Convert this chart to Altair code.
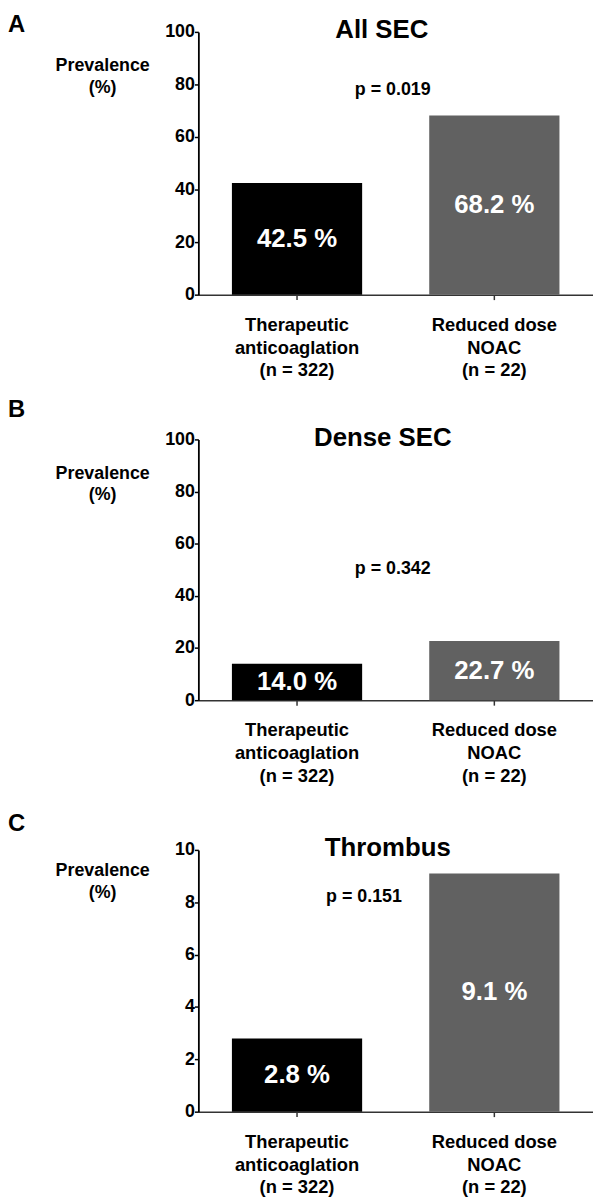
import altair as alt
import pandas as pd

# ---- data ----
groups = ["Therapeutic|anticoaglation|(n = 322)", "Reduced dose|NOAC|(n = 22)"]
colors = ["#000000", "#616161"]

titles = ["All SEC", "Dense SEC", "Thrombus"]
letters = ["A", "B", "C"]

all_sec = [42.5, 68.2]
dense_sec = [14.0, 22.7]
thrombus = [2.8, 9.1]
all_sec_labels = ["42.5 %", "68.2 %"]
dense_sec_labels = ["14.0 %", "22.7 %"]
thrombus_labels = ["2.8 %", "9.1 %"]

p_texts = ["p = 0.019", "p = 0.342", "p = 0.151"]
p_levels = [77.7, 50.2, 8.2]          # height of the p-value note, in axis units
y_max = [100, 100, 10]
y_ticks = [[0, 20, 40, 60, 80, 100], [0, 20, 40, 60, 80, 100], [0, 2, 4, 6, 8, 10]]

FONT = "Liberation Sans"


def panel(values, labels, title, letter, ptext, plevel, ymax, ticks,
          h, ytitle_y, letter_y, title_x, p_x):
    df = pd.DataFrame({"group": groups, "value": values, "label": labels})
    xenc = alt.X(
        "group:N", sort=groups,
        scale=alt.Scale(paddingInner=0.34, paddingOuter=0.17),
        axis=alt.Axis(
            title=None, labelAngle=0, labelExpr="split(datum.label, '|')",
            labelFont=FONT, labelFontSize=18.5, labelFontWeight="bold",
            labelColor="#000", labelLineHeight=23, labelPadding=16,
            tickSize=5, tickColor="#333", tickWidth=1.5,
            domainColor="#333", domainWidth=1.5, grid=False,
        ),
    )
    yaxis = alt.Axis(
        values=ticks, grid=False, title=["Prevalence", "(%)"],
        titleAngle=0, titleAlign="center", titleBaseline="alphabetic",
        titleX=-97, titleY=ytitle_y, titleFont=FONT, titleFontSize=18,
        titleFontWeight="bold", titleColor="#000", titleLineHeight=22,
        labelFont=FONT, labelFontSize=18, labelFontWeight="bold",
        labelColor="#000", labelPadding=0, tickSize=4, tickColor="#000",
        tickWidth=1.5, domainColor="#000", domainWidth=1.8,
    )
    yscale = alt.Scale(domain=[0, ymax], nice=False)

    bars = alt.Chart(df).mark_bar().encode(
        x=xenc,
        y=alt.Y("value:Q", scale=yscale, axis=yaxis),
        color=alt.Color("group:N", sort=groups,
                        scale=alt.Scale(domain=groups, range=colors), legend=None),
    )
    vals = alt.Chart(df).transform_calculate(mid="datum.value / 2").mark_text(
        font=FONT, fontSize=26, fontWeight="bold", color="white", baseline="middle"
    ).encode(
        x=alt.X("group:N", sort=groups),
        y=alt.Y("mid:Q", scale=yscale, axis=yaxis),
        text="label:N",
    )
    pdf = pd.DataFrame({"p": [ptext], "lvl": [plevel]})
    ptxt = alt.Chart(pdf).mark_text(
        font=FONT, fontSize=18, fontWeight="bold", color="#000", baseline="middle"
    ).encode(
        x=alt.value(p_x),
        y=alt.Y("lvl:Q", scale=yscale, axis=yaxis),
        text="p:N",
    )
    tdf = pd.DataFrame({"t": [title], "l": [letter]})
    ttxt = alt.Chart(tdf).mark_text(
        font=FONT, fontSize=26, fontWeight="bold", color="#000", baseline="top"
    ).encode(x=alt.value(title_x), y=alt.value(-14.5), text="t:N")
    ltxt = alt.Chart(tdf).mark_text(
        font=FONT, fontSize=24, fontWeight="bold", color="#000",
        baseline="top", align="left"
    ).encode(x=alt.value(-192), y=alt.value(letter_y), text="l:N")

    return alt.layer(bars, vals, ptxt, ttxt, ltxt).properties(width=398, height=h)


pa = panel(all_sec, all_sec_labels, titles[0], letters[0], p_texts[0], p_levels[0],
           y_max[0], y_ticks[0], 265, 39, -19, 185, 196)
pb = panel(dense_sec, dense_sec_labels, titles[1], letters[1], p_texts[1], p_levels[1],
           y_max[1], y_ticks[1], 263, 39, -42, 186, 196)
pc = panel(thrombus, thrombus_labels, titles[2], letters[2], p_texts[2], p_levels[2],
           y_max[2], y_ticks[2], 264, 26, -38, 191, 167)

top = alt.VConcatChart(vconcat=[pa, pb], spacing=18)
chart = alt.VConcatChart(vconcat=[top, pc], spacing=27).properties(
    padding=0
).configure_view(stroke=None)

chart.save("out.html", embed_options={"renderer": "svg", "actions": False})
